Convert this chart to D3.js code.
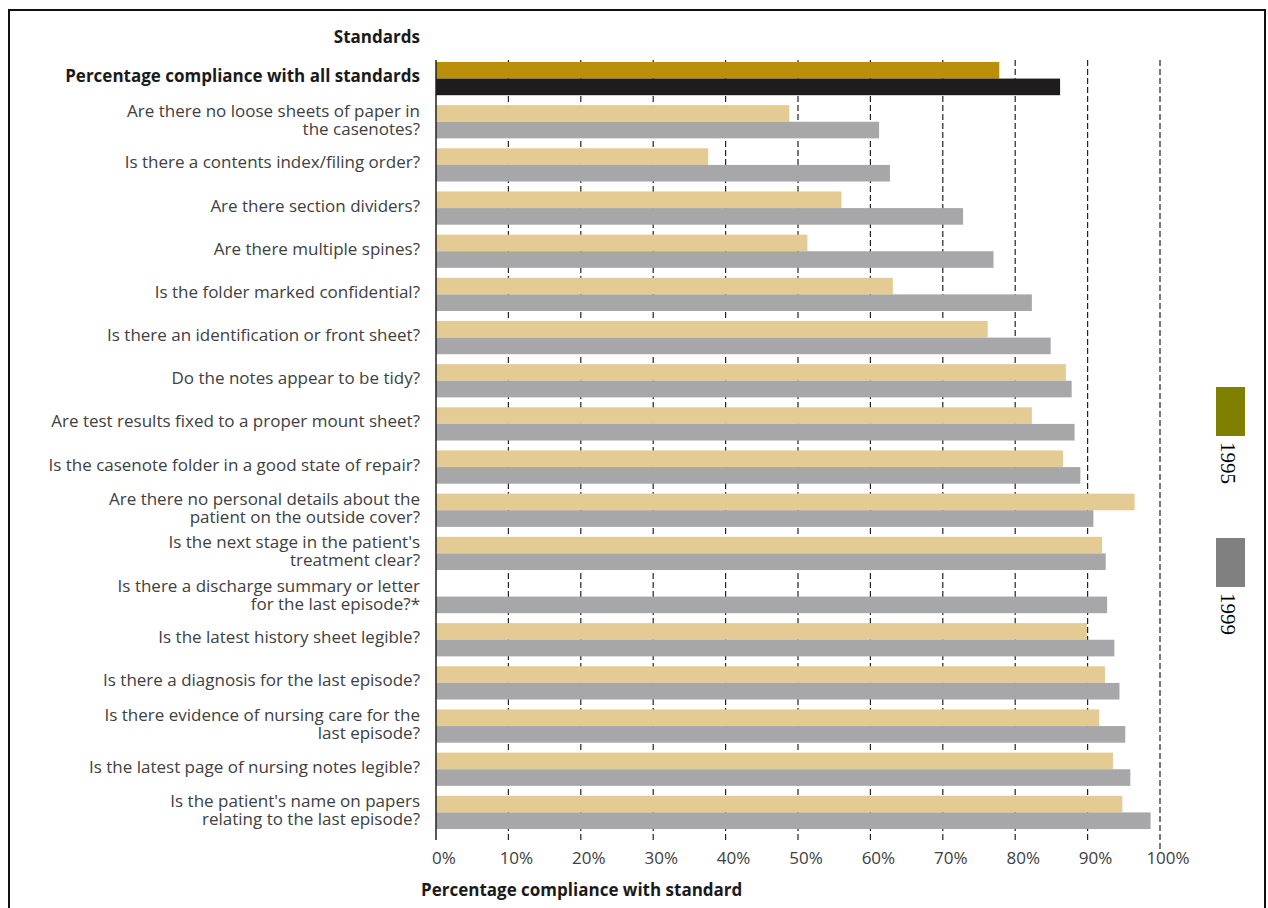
<!DOCTYPE html>
<html>
<head>
<meta charset="utf-8">
<script src="https://cdn.jsdelivr.net/npm/d3@7/dist/d3.min.js"></script>
<style>
  body { margin: 0; background: #fff; }
  text { font-family: "Open Sans", sans-serif; }
</style>
</head>
<body>
<svg width="1268" height="908"></svg>
<script>
// rows top to bottom, "\n" splits a label over two lines
const categories = [
    "Percentage compliance with all standards",
    "Are there no loose sheets of paper in\nthe casenotes?",
    "Is there a contents index/filing order?",
    "Are there section dividers?",
    "Are there multiple spines?",
    "Is the folder marked confidential?",
    "Is there an identification or front sheet?",
    "Do the notes appear to be tidy?",
    "Are test results fixed to a proper mount sheet?",
    "Is the casenote folder in a good state of repair?",
    "Are there no personal details about the\npatient on the outside cover?",
    "Is the next stage in the patient's\ntreatment clear?",
    "Is there a discharge summary or letter\nfor the last episode?*",
    "Is the latest history sheet legible?",
    "Is there a diagnosis for the last episode?",
    "Is there evidence of nursing care for the\nlast episode?",
    "Is the latest page of nursing notes legible?",
    "Is the patient's name on papers\nrelating to the last episode?"
];

const values1995 = [77.8, 48.8, 37.6, 56.0, 51.3, 63.1, 76.2, 87.0, 82.3, 86.6,
                    96.5, 92.0, null, 89.9, 92.4, 91.6, 93.5, 94.8];
const values1999 = [86.2, 61.2, 62.7, 72.8, 77.0, 82.3, 84.9, 87.8, 88.2, 89.0,
                    90.8, 92.5, 92.7, 93.7, 94.4, 95.2, 95.9, 98.7];

const ticks = [0, 10, 20, 30, 40, 50, 60, 70, 80, 90, 100];
const legendYears = ["1995", "1999"];

const svg = d3.select("svg");

// frame round the figure (open at the bottom)
svg.append("path")
    .attr("d", "M9,912 L9,10 L1265,10 L1265,912")
    .attr("fill", "none")
    .attr("stroke", "#111")
    .attr("stroke-width", 2);

const x = d3.scaleLinear().domain([0, 100]).range([436, 1160]);
const y = d3.scaleBand()
    .domain(d3.range(categories.length))
    .range([57, 834])
    .paddingInner(0.23)
    .paddingOuter(0.115);
const bh = y.bandwidth() / 2;

// dashed grid lines behind the bars
svg.append("g")
    .selectAll("line")
    .data(ticks.filter(t => t > 0))
    .enter().append("line")
    .attr("x1", d => x(d)).attr("x2", d => x(d))
    .attr("y1", 60)
    .attr("y2", d => d === 100 ? 850 : 840)
    .attr("stroke", "#222")
    .attr("stroke-width", 1.2)
    .attr("stroke-dasharray", "6,3");

const rows = svg.append("g")
    .selectAll("g")
    .data(categories.map((c, i) => ({c: c, i: i, a: values1995[i], b: values1999[i]})))
    .enter().append("g");

rows.filter(d => d.a != null).append("rect")
    .attr("x", x(0))
    .attr("y", d => y(d.i))
    .attr("width", d => x(d.a) - x(0))
    .attr("height", bh)
    .attr("fill", d => d.i === 0 ? "#b98f0b" : "#e3cb93");

rows.append("rect")
    .attr("x", x(0))
    .attr("y", d => y(d.i) + bh)
    .attr("width", d => x(d.b) - x(0))
    .attr("height", bh)
    .attr("fill", d => d.i === 0 ? "#1e1c1d" : "#a7a7a9");

// left axis line
svg.append("line")
    .attr("x1", x(0)).attr("x2", x(0))
    .attr("y1", 60).attr("y2", 840)
    .attr("stroke", "#222")
    .attr("stroke-width", 1.5);

// category labels
rows.each(function (d) {
    const lines = d.c.split("\n");
    const cy = y(d.i) + bh;
    const t = d3.select(this).append("text")
        .attr("text-anchor", "end")
        .attr("fill", d.i === 0 ? "#1a1a1a" : "#404040")
        .style("font-size", "17px")
        .style("font-weight", d.i === 0 ? 700 : 400);
    lines.forEach((l, k) => {
        const off = lines.length === 1 ? -3 : (k === 0 ? -11.5 : 6.5);
        t.append("tspan")
            .attr("x", 420)
            .attr("y", cy + off)
            .attr("dominant-baseline", "central")
            .text(l);
    });
});

svg.append("text")
    .attr("x", 420).attr("y", 36)
    .attr("text-anchor", "end")
    .attr("dominant-baseline", "central")
    .attr("fill", "#1a1a1a")
    .style("font-size", "17px")
    .style("font-weight", 700)
    .text("Standards");

// tick labels
svg.append("g")
    .selectAll("text")
    .data(ticks)
    .enter().append("text")
    .attr("x", d => x(d) + 8)
    .attr("y", 857)
    .attr("text-anchor", "middle")
    .attr("dominant-baseline", "central")
    .attr("fill", "#404040")
    .style("font-size", "17px")
    .text(d => d + "%");

svg.append("text")
    .attr("x", 421).attr("y", 889)
    .attr("dominant-baseline", "central")
    .attr("fill", "#1a1a1a")
    .style("font-size", "17px")
    .style("font-weight", 700)
    .text("Percentage compliance with standard");

// legend, years written downwards
const legendColors = ["#808000", "#808080"];
const lg = svg.append("g")
    .selectAll("g")
    .data(legendYears)
    .enter().append("g")
    .attr("transform", (d, i) => `translate(1216,${387 + i * 151})`);

lg.append("rect")
    .attr("width", 29).attr("height", 49)
    .attr("fill", (d, i) => legendColors[i]);

lg.append("text")
    .attr("transform", "translate(5,55) rotate(90)")
    .attr("fill", "#000")
    .style("font-family", "'Liberation Serif', serif")
    .style("font-size", "21px")
    .text(d => d);
</script>
</body>
</html>
